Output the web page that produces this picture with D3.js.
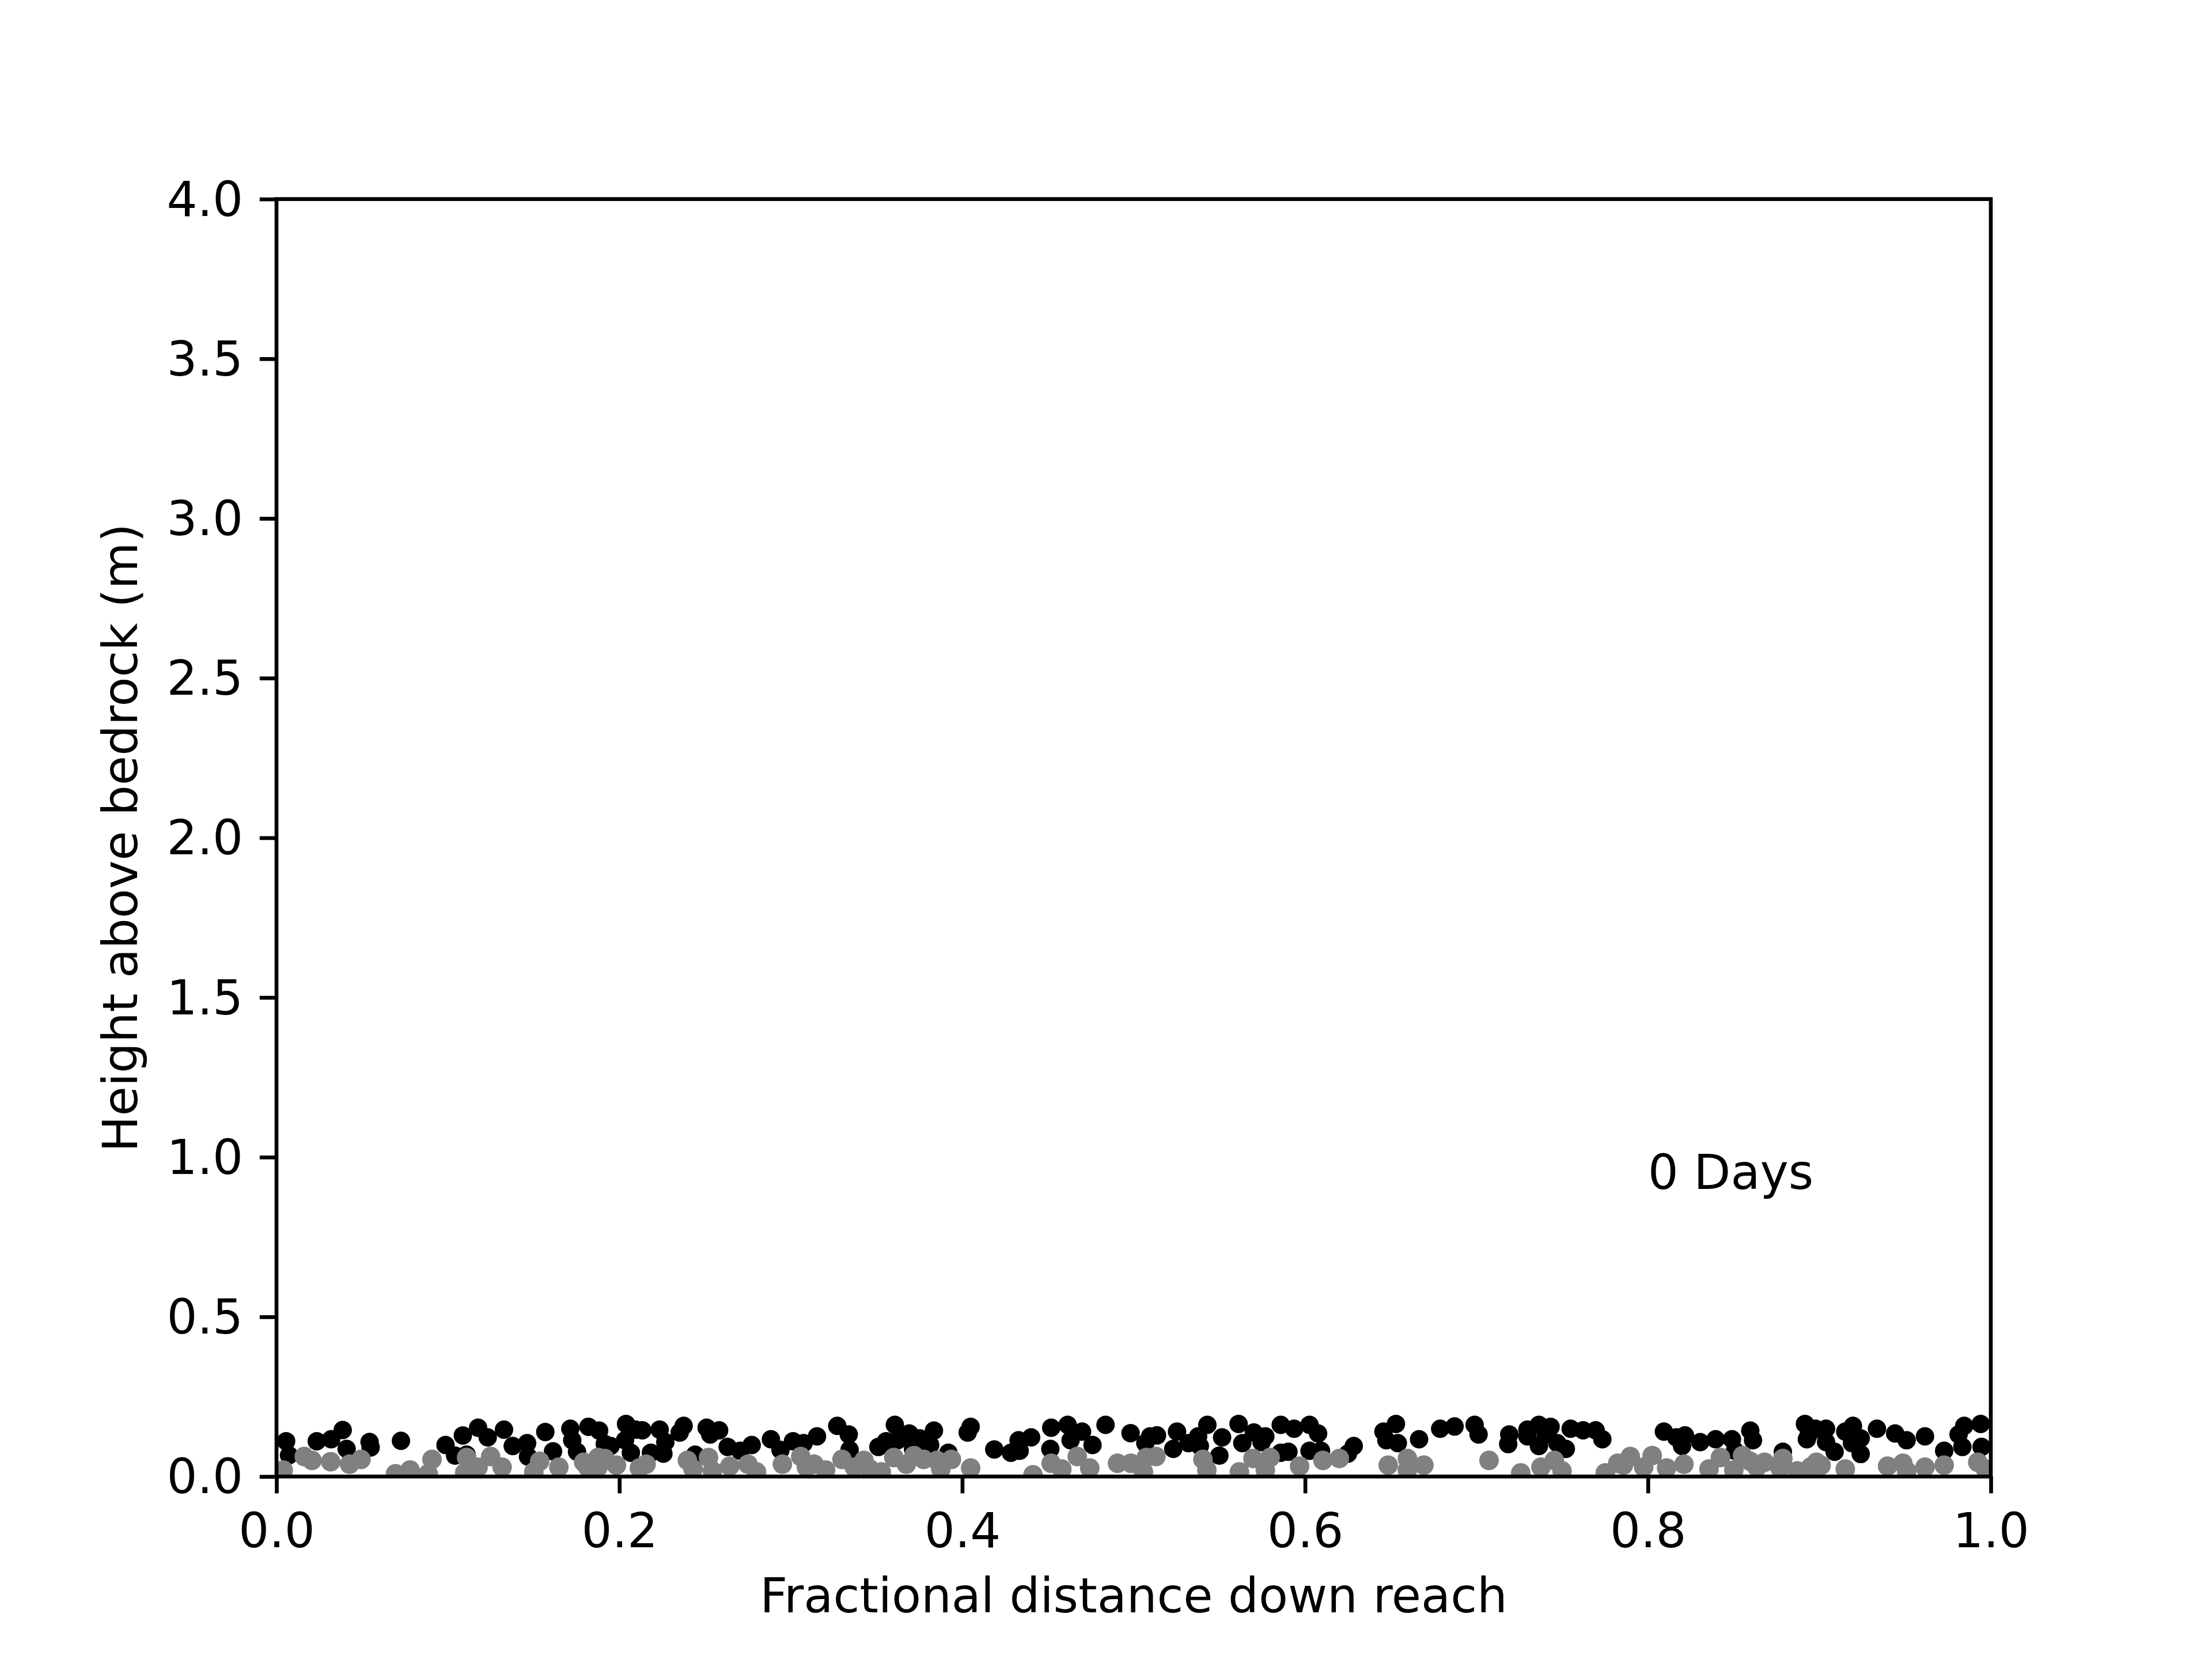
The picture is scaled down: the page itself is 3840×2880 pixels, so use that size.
<!DOCTYPE html>
<html>
<head>
<meta charset="utf-8">
<script src="https://cdn.jsdelivr.net/npm/d3@7"></script>
<style>
  html, body { margin: 0; padding: 0; background: #ffffff; }
  svg { display: block; }
  text { font-family: "DejaVu Sans", sans-serif; }
</style>
</head>
<body>
<svg id="chart" width="3840" height="2880"></svg>
<script>
// ---- data ----
const xTicks = [0.0, 0.2, 0.4, 0.6, 0.8, 1.0];
const yTicks = [0.0, 0.5, 1.0, 1.5, 2.0, 2.5, 3.0, 3.5, 4.0];
const xLabel = "Fractional distance down reach";
const yLabel = "Height above bedrock (m)";
const annotation = { x: 0.8, y: 0.9, text: "0 Days" };

const blackX = [0.0056,0.0073,0.0235,0.0319,0.0386,0.0409,0.0543,0.0549,0.0726,0.0986,0.1087,0.1176,0.1232,0.1042,0.1109,0.1327,0.1378,0.1462,0.1467,0.1568,0.1613,0.1714,0.1725,0.1753,0.1820,0.1882,0.1915,0.1949,0.2039,0.2033,0.2067,0.2094,0.2134,0.2184,0.2235,0.2268,0.2257,0.2352,0.2375,0.2442,0.2509,0.2582,0.2530,0.2632,0.2705,0.2772,0.2884,0.2940,0.3013,0.3075,0.3153,0.3271,0.3338,0.3343,0.3511,0.3556,0.3607,0.3623,0.3691,0.3752,0.3713,0.3835,0.3813,0.3919,0.4049,0.4032,0.4187,0.4284,0.4335,0.4329,0.4402,0.4519,0.4514,0.4615,0.4632,0.4699,0.4760,0.4836,0.4982,0.5068,0.5096,0.5136,0.5253,0.5231,0.5320,0.5376,0.5430,0.5386,0.5516,0.5500,0.5612,0.5634,0.5701,0.5768,0.5746,0.5858,0.5936,0.5858,0.5903,0.6026,0.6076,0.6026,0.6093,0.6250,0.6284,0.6457,0.6530,0.6474,0.6541,0.6665,0.6788,0.6872,0.6989,0.7012,0.7191,0.7185,0.7297,0.7364,0.7297,0.7432,0.7364,0.7404,0.7471,0.7521,0.7549,0.7622,0.7695,0.7734,0.8093,0.8165,0.8216,0.8199,0.8305,0.8395,0.8490,0.8507,0.8597,0.8613,0.8787,0.8916,0.8938,0.8977,0.8927,0.9039,0.9039,0.9089,0.9151,0.9196,0.9241,0.9190,0.9241,0.9336,0.9442,0.9509,0.9616,0.9728,0.9812,0.9845,0.9834,0.9941,0.9946];
const blackY = [0.1106,0.0667,0.1106,0.1167,0.1455,0.0866,0.1080,0.0910,0.1118,0.0986,0.1286,0.1527,0.1226,0.0655,0.0685,0.1467,0.0956,0.1046,0.0625,0.1394,0.0788,0.1497,0.1136,0.0775,0.1557,0.1437,0.1016,0.0956,0.1647,0.1136,0.0745,0.1467,0.1447,0.0745,0.1467,0.1076,0.0716,0.1377,0.1587,0.0685,0.1527,0.1447,0.1317,0.0926,0.0806,0.0986,0.1167,0.0835,0.1106,0.1046,0.1257,0.1587,0.1317,0.0835,0.0926,0.1106,0.1617,0.1136,0.1347,0.1196,0.0866,0.1437,0.0986,0.0745,0.1557,0.1377,0.0848,0.0745,0.0806,0.1136,0.1226,0.1527,0.0866,0.1617,0.1136,0.1407,0.0986,0.1617,0.1358,0.1046,0.1257,0.1287,0.1407,0.0866,0.1046,0.1257,0.1617,0.0956,0.1226,0.0655,0.1647,0.1046,0.1377,0.1257,0.1076,0.1617,0.1497,0.0745,0.0775,0.1617,0.1347,0.0806,0.0806,0.0716,0.0956,0.1407,0.1647,0.1136,0.1046,0.1166,0.1497,0.1567,0.1617,0.1317,0.1317,0.1016,0.1467,0.1617,0.1257,0.1557,0.0956,0.1317,0.1046,0.0866,0.1497,0.1447,0.1447,0.1166,0.1407,0.1226,0.1287,0.0956,0.1076,0.1166,0.1166,0.0806,0.1437,0.1136,0.0775,0.1647,0.1317,0.1497,0.1166,0.1497,0.1076,0.0775,0.1407,0.1587,0.1196,0.1046,0.0705,0.1497,0.1347,0.1136,0.1257,0.0806,0.1317,0.1587,0.0926,0.1647,0.0926];

const grayX = [0.0039,0.0162,0.0207,0.0316,0.0426,0.0493,0.0694,0.0779,0.0907,0.0885,0.1109,0.1098,0.1176,0.1249,0.1316,0.1501,0.1535,0.1647,0.1792,0.1815,0.1876,0.1915,0.1876,0.1983,0.2117,0.2156,0.2397,0.2430,0.2520,0.2543,0.2644,0.2750,0.2800,0.2951,0.3058,0.3091,0.3136,0.3203,0.3299,0.3427,0.3370,0.3461,0.3528,0.3601,0.3674,0.3719,0.3775,0.3853,0.3937,0.3875,0.4049,0.4413,0.4519,0.4581,0.4671,0.4744,0.4906,0.4984,0.5074,0.5130,0.5057,0.5404,0.5427,0.5617,0.5696,0.5768,0.5796,0.5968,0.6104,0.6200,0.6485,0.6597,0.6597,0.6693,0.7073,0.7258,0.7376,0.7454,0.7499,0.7751,0.7824,0.7897,0.7857,0.7975,0.8025,0.8109,0.8210,0.8356,0.8423,0.8501,0.8552,0.8597,0.8636,0.8680,0.8787,0.8770,0.8871,0.8950,0.8983,0.9010,0.9151,0.9398,0.9487,0.9509,0.9616,0.9728,0.9924,0.9969];
const grayY = [0.0204,0.0625,0.0505,0.0463,0.0385,0.0535,0.0084,0.0204,0.0535,0.0084,0.0595,0.0114,0.0294,0.0625,0.0294,0.0144,0.0475,0.0294,0.0445,0.0294,0.0595,0.0565,0.0294,0.0355,0.0264,0.0385,0.0505,0.0234,0.0595,0.0174,0.0325,0.0385,0.0144,0.0385,0.0625,0.0294,0.0385,0.0204,0.0535,0.0505,0.0294,0.0234,0.0144,0.0595,0.0385,0.0655,0.0535,0.0505,0.0535,0.0234,0.0264,0.0054,0.0415,0.0234,0.0625,0.0264,0.0415,0.0415,0.0595,0.0625,0.0144,0.0535,0.0204,0.0144,0.0565,0.0204,0.0595,0.0325,0.0505,0.0565,0.0355,0.0565,0.0204,0.0355,0.0505,0.0114,0.0294,0.0505,0.0174,0.0114,0.0415,0.0625,0.0355,0.0294,0.0655,0.0264,0.0385,0.0234,0.0595,0.0204,0.0655,0.0475,0.0294,0.0445,0.0565,0.0264,0.0174,0.0300,0.0445,0.0350,0.0234,0.0325,0.0415,0.0174,0.0294,0.0355,0.0445,0.0234];

// ---- layout ----
const W = 3840, H = 2880;
const m = { left: 480, right: 3456, top: 345.6, bottom: 2563.2 };
const fontPx = 83.33;
const lw = 6.67;
const tickLen = 29.2;

const svg = d3.select("#chart");
svg.append("rect").attr("width", W).attr("height", H).attr("fill", "#ffffff");

const x = d3.scaleLinear().domain([0, 1]).range([m.left, m.right]);
const y = d3.scaleLinear().domain([0, 4]).range([m.bottom, m.top]);

svg.append("defs").append("clipPath").attr("id", "plotclip")
  .append("rect")
  .attr("x", m.left).attr("y", m.top)
  .attr("width", m.right - m.left).attr("height", m.bottom - m.top);

const plot = svg.append("g").attr("clip-path", "url(#plotclip)");

const blackPts = blackX.map((v, i) => ({ x: v, y: blackY[i] }));
const grayPts = grayX.map((v, i) => ({ x: v, y: grayY[i] }));

plot.selectAll("circle.b").data(blackPts).enter().append("circle")
  .attr("class", "b")
  .attr("cx", d => x(d.x)).attr("cy", d => y(d.y))
  .attr("r", 16).attr("fill", "#000000");

plot.selectAll("circle.g").data(grayPts).enter().append("circle")
  .attr("class", "g")
  .attr("cx", d => x(d.x)).attr("cy", d => y(d.y))
  .attr("r", 17).attr("fill", "#808080");

// annotation
svg.append("text")
  .attr("x", x(annotation.x)).attr("y", y(annotation.y))
  .attr("font-size", fontPx).attr("fill", "#000")
  .text(annotation.text);

// axes
const fmt = d3.format(".1f");
const xAxis = d3.axisBottom(x).tickValues(xTicks).tickFormat(fmt)
  .tickSizeInner(tickLen).tickSizeOuter(0).tickPadding(29);
const yAxis = d3.axisLeft(y).tickValues(yTicks).tickFormat(fmt)
  .tickSizeInner(tickLen).tickSizeOuter(0).tickPadding(29);

const gx = svg.append("g").attr("transform", `translate(0,${m.bottom})`).call(xAxis);
const gy = svg.append("g").attr("transform", `translate(${m.left},0)`).call(yAxis);

[gx, gy].forEach(g => {
  g.select(".domain").remove();
  g.selectAll(".tick line").attr("stroke", "#000").attr("stroke-width", lw);
  g.selectAll(".tick text").attr("font-size", fontPx).attr("fill", "#000")
    .attr("font-family", "DejaVu Sans");
});
gx.selectAll(".tick text").attr("dy", null).attr("y", 2686 - m.bottom);
gy.selectAll(".tick text").attr("dy", null).attr("dominant-baseline", "central").attr("x", -58);

// spines (frame) on top
svg.append("rect")
  .attr("x", m.left).attr("y", m.top)
  .attr("width", m.right - m.left).attr("height", m.bottom - m.top)
  .attr("fill", "none").attr("stroke", "#000").attr("stroke-width", lw)
  .attr("stroke-linejoin", "miter");

// axis labels
svg.append("text")
  .attr("x", (m.left + m.right) / 2).attr("y", 2799)
  .attr("text-anchor", "middle").attr("font-size", fontPx).attr("fill", "#000")
  .text(xLabel);

svg.append("text")
  .attr("transform", `translate(238,${(m.top + m.bottom) / 2}) rotate(-90)`)
  .attr("text-anchor", "middle").attr("font-size", fontPx).attr("fill", "#000")
  .text(yLabel);
</script>
</body>
</html>
